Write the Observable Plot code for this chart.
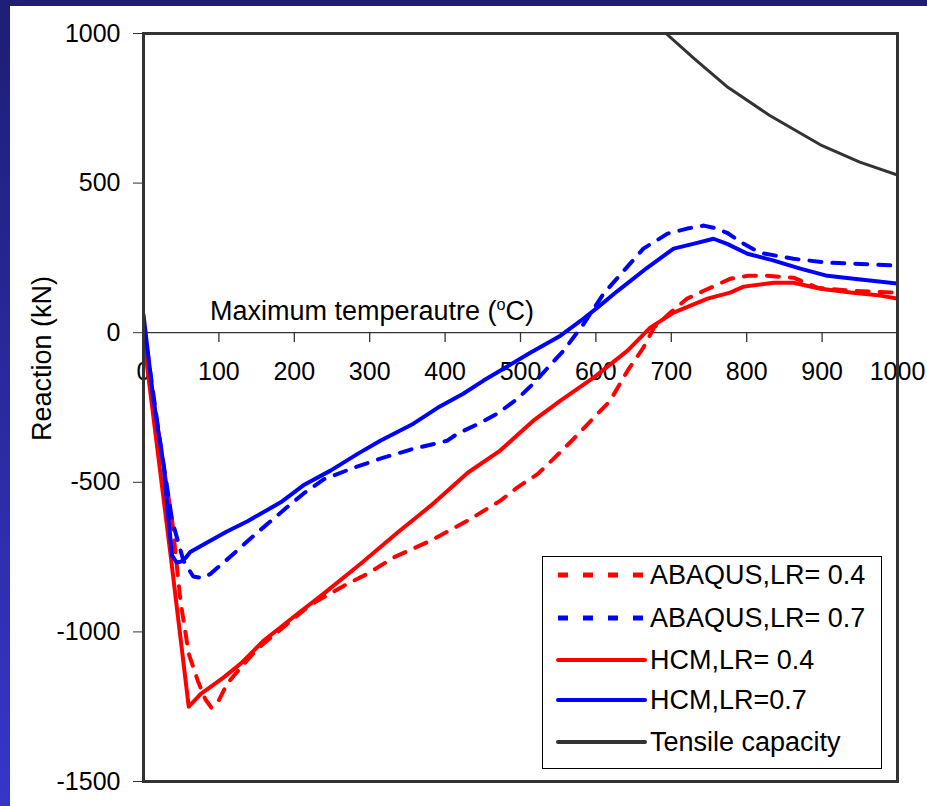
<!DOCTYPE html>
<html>
<head>
<meta charset="utf-8">
<script src="https://cdn.jsdelivr.net/npm/d3@7"></script>
<script src="https://cdn.jsdelivr.net/npm/@observablehq/plot@0.6"></script>
<style>
  html, body { margin: 0; padding: 0; }
  body { width: 927px; height: 806px; overflow: hidden; font-family: "Liberation Sans", Arial, sans-serif; }
  #page { position: relative; width: 927px; height: 806px; background: linear-gradient(to bottom, #1e1e74, #3636ca); }
  #sheet { position: absolute; left: 10px; top: 6px; right: 0; bottom: 0; background: #fff; }
  #chart { position: absolute; left: 0; top: 0; }
  #xtitle { position: absolute; font-size: 27px; line-height: 30px; color: #000; white-space: nowrap; }
  #xtitle sup { font-size: 0.6em; vertical-align: 0.6em; line-height: 0; }
  #legend { position: absolute; left: 542px; top: 556px; }
</style>
</head>
<body>
<div id="page">
  <div id="sheet"></div>
  <div id="chart"></div>
  <div id="xtitle">Maximum temperautre (<sup>o</sup>C)</div>
  <div id="legend"></div>
</div>
<script>
// Axis ticks
const xTicks = [0, 100, 200, 300, 400, 500, 600, 700, 800, 900, 1000];
const yTicks = [-1500, -1000, -500, 0, 500, 1000];

// ABAQUS, load ratio 0.4
const abaqus04Temp = [0, 25, 38, 49, 60, 72, 82, 90, 98, 111, 129, 151, 191, 221, 270, 297, 332, 381, 430, 473, 496, 523, 544, 570, 595, 619, 642, 663, 677, 700, 721, 743, 778, 801, 827, 862, 894, 938, 1000];
const abaqus04Reac = [-10, -420, -628, -896, -1073, -1163, -1225, -1253, -1238, -1173, -1119, -1057, -973, -910, -840, -806, -751, -695, -628, -562, -517, -472, -421, -356, -290, -227, -127, -50, 17, 70, 114, 140, 180, 190, 190, 184, 150, 140, 134];

// ABAQUS, load ratio 0.7
const abaqus07Temp = [0, 20, 38, 53, 66, 78, 89, 98, 115, 129, 151, 191, 212, 239, 275, 314, 358, 403, 416, 447, 469, 496, 517, 557, 584, 610, 637, 663, 695, 721, 743, 756, 774, 796, 818, 862, 907, 951, 1000];
const abaqus07Reac = [30, -330, -628, -762, -815, -820, -806, -786, -749, -717, -668, -582, -538, -490, -455, -421, -388, -361, -338, -301, -271, -221, -170, -60, 30, 130, 207, 281, 331, 348, 358, 351, 334, 297, 267, 247, 234, 230, 224];

// HCM, load ratio 0.4
const hcm04Temp = [0, 36, 60, 76, 106, 129, 159, 181, 204, 239, 288, 337, 381, 430, 473, 517, 553, 597, 642, 672, 703, 748, 778, 796, 836, 862, 898, 938, 977, 1000];
const hcm04Reac = [-15, -745, -1250, -1207, -1153, -1106, -1030, -986, -940, -872, -772, -668, -578, -468, -394, -294, -227, -150, -60, 17, 67, 114, 134, 154, 167, 167, 147, 134, 124, 114];

// HCM, load ratio 0.7
const hcm07Temp = [0, 13, 27, 33, 38, 44, 50, 56, 62, 85, 110, 138, 182, 212, 248, 284, 314, 358, 390, 424, 451, 513, 553, 580, 602, 629, 668, 703, 729, 756, 774, 801, 836, 871, 907, 942, 1000];
const hcm07Reac = [60, -220, -450, -620, -745, -768, -765, -752, -733, -700, -665, -630, -567, -510, -461, -405, -361, -304, -251, -204, -160, -67, -10, 40, 84, 140, 217, 281, 297, 314, 297, 264, 241, 214, 190, 180, 164];

// Tensile capacity of the section
const tensileTemp = [693, 730, 775, 830, 900, 950, 1000];
const tensileReac = [1000, 917, 820, 727, 625, 570, 527];

const seriesNames = ["ABAQUS,LR= 0.4", "ABAQUS,LR= 0.7", "HCM,LR= 0.4", "HCM,LR=0.7", "Tensile capacity"];
const seriesColors = ["#ff0000", "#0000ff", "#ff0000", "#0000ff", "#333333"];
const seriesDashed = [true, true, false, false, false];

const toRows = (temps, reacs) => temps.map((t, i) => ({t, r: reacs[i]}));
const seriesRows = [
  toRows(abaqus04Temp, abaqus04Reac),
  toRows(abaqus07Temp, abaqus07Reac),
  toRows(hcm04Temp, hcm04Reac),
  toRows(hcm07Temp, hcm07Reac),
  toRows(tensileTemp, tensileReac)
];

const lineMarks = seriesRows.map((rows, i) => Plot.line(rows, {
  x: "t", y: "r",
  stroke: seriesColors[i],
  strokeWidth: i === 4 ? 3 : 4,
  strokeDasharray: seriesDashed[i] ? "12,11" : null,
  strokeLinejoin: "round",
  clip: true
}));

const plot = Plot.plot({
  width: 927,
  height: 806,
  marginLeft: 143,
  marginRight: 30,
  marginTop: 33,
  marginBottom: 25,
  style: {background: "none", fontFamily: "'Liberation Sans', Arial, sans-serif", color: "#000", overflow: "visible"},
  x: {domain: [0, 1000], axis: null},
  y: {domain: [-1500, 1000], axis: null},
  marks: [
    Plot.ruleY([0], {stroke: "#333", strokeWidth: 1.3}),
    Plot.ruleX(xTicks, {x: d => d, y1: 0, y2: -33, stroke: "#333", strokeWidth: 1.3}),
    Plot.text(xTicks, {x: d => d, y: 0, dy: 39, text: d => String(d), fontSize: 25, fill: "#000"}),
    Plot.axisY(yTicks, {anchor: "left", tickSize: 10, tickPadding: 13, fontSize: 25, label: null, stroke: "#333", fill: "#000", tickFormat: d => String(d)}),
    Plot.text(["Reaction (kN)"], {frameAnchor: "left", textAnchor: "middle", dx: -101, dy: -49, rotate: -90, fontSize: 27, fill: "#000"}),
    ...lineMarks,
    Plot.frame({stroke: "#333", strokeWidth: 3})
  ]
});
document.getElementById("chart").appendChild(plot);

// Axis title placed just above the zero line
const xs = plot.scale("x"), ys = plot.scale("y");
const xtitle = document.getElementById("xtitle");
xtitle.style.left = (xs.apply(0) + 67) + "px";
xtitle.style.top = (ys.apply(0) - 36) + "px";

// Legend box
const ns = "http://www.w3.org/2000/svg";
const leg = document.createElementNS(ns, "svg");
leg.setAttribute("width", 340);
leg.setAttribute("height", 213);
const box = document.createElementNS(ns, "rect");
box.setAttribute("x", 0.5); box.setAttribute("y", 0.5);
box.setAttribute("width", 339); box.setAttribute("height", 212);
box.setAttribute("fill", "#fff"); box.setAttribute("stroke", "#000"); box.setAttribute("stroke-width", 1);
leg.appendChild(box);
const rowY = [19, 62, 104, 144, 186];
seriesNames.forEach((name, i) => {
  const ln = document.createElementNS(ns, "line");
  ln.setAttribute("x1", 16); ln.setAttribute("x2", 103);
  ln.setAttribute("y1", rowY[i]); ln.setAttribute("y2", rowY[i]);
  ln.setAttribute("stroke", seriesColors[i]);
  ln.setAttribute("stroke-width", seriesDashed[i] ? 5 : 4);
  if (seriesDashed[i]) ln.setAttribute("stroke-dasharray", "10,15");
  else ln.setAttribute("stroke-linecap", "round");
  leg.appendChild(ln);
  const tx = document.createElementNS(ns, "text");
  tx.setAttribute("x", 108); tx.setAttribute("y", rowY[i]);
  tx.setAttribute("dy", "0.35em");
  tx.setAttribute("font-size", 27);
  tx.setAttribute("font-family", "'Liberation Sans', Arial, sans-serif");
  tx.textContent = name;
  leg.appendChild(tx);
});
document.getElementById("legend").appendChild(leg);
</script>
</body>
</html>
